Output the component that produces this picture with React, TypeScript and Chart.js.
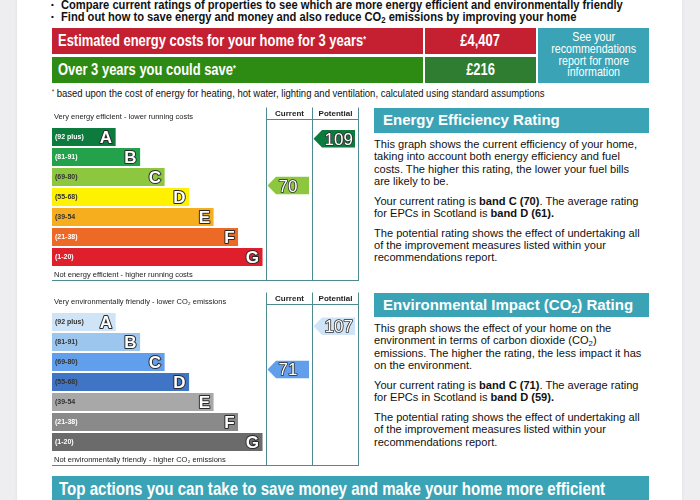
import React, { useEffect, useRef } from 'react';
import { Chart, registerables } from 'chart.js';

Chart.register(...registerables);

// ---------- data ----------
const bandLetters = ['A', 'B', 'C', 'D', 'E', 'F', 'G'];
const bandRanges = ['(92 plus)', '(81-91)', '(69-80)', '(55-68)', '(39-54', '(21-38)', '(1-20)'];
const bandLengths = [26, 36, 46, 56, 66, 76, 86];
const columnLabels = ['Current', 'Potential'];
const energyRatings = [70, 109];
const energyRatingBands = [2, 0];
const envRatings = [71, 107];
const envRatingBands = [2, 0];
const energyCost = '£4,407';
const savingCost = '£216';

// ---------- styles ----------
const energyColors = ['#0d7b3e', '#23a24b', '#8dc63f', '#fff200', '#f6ae1e', '#ec6a26', '#e01f2d'];
const energyRangeText = ['#ffffff', '#ffffff', '#333333', '#333333', '#333333', '#ffffff', '#ffffff'];
const envColors = ['#cfe4f7', '#9dc6ef', '#619eec', '#4074c4', '#a8a8a8', '#8a8a8a', '#6b6b6b'];
const envRangeText = ['#333333', '#333333', '#333333', '#333333', '#333333', '#ffffff', '#ffffff'];
const TEAL = '#3aa3b6';
const SANS = "'Liberation Sans', Arial, sans-serif";

const outlined = (ctx: any, text: string, x: number, y: number, lw: number) => {
  ctx.lineJoin = 'round';
  ctx.lineWidth = lw;
  ctx.strokeStyle = '#2a2a2a';
  ctx.strokeText(text, x, y);
  ctx.fillStyle = '#ffffff';
  ctx.fillText(text, x, y);
};

const epcPlugin = {
  id: 'epc',
  afterDatasetsDraw(chart: any, _args: any, opts: any) {
    const { ctx, chartArea: a, scales } = chart;
    const meta = chart.getDatasetMeta(0);
    const W = a.right - a.left;
    const cols = [a.left + Math.round(W * 0.699), a.left + Math.round(W * 0.85), a.right];
    ctx.save();

    // bars: range labels and letters
    meta.data.forEach((bar: any, i: number) => {
      const base = Math.min(bar.base, bar.x);
      const end = Math.max(bar.base, bar.x);
      ctx.font = `bold 7px ${SANS}`;
      ctx.fillStyle = opts.rangeColors[i];
      ctx.textAlign = 'left';
      ctx.textBaseline = 'middle';
      ctx.fillText(bandRanges[i], base + 3, bar.y + 0.5);
      ctx.font = `bold 17px ${SANS}`;
      ctx.textAlign = 'right';
      ctx.textBaseline = 'alphabetic';
      outlined(ctx, bandLetters[i], end - 3.5, bar.y + 17 * 0.716 / 2, 2);
    });

    // frame
    const top = a.top - 19.5;
    const head = a.top - 7.5;
    const bottom = a.bottom + 13.5;
    ctx.strokeStyle = '#4d8b91';
    ctx.lineWidth = 1;
    ctx.beginPath();
    cols.forEach((c: number) => {
      ctx.moveTo(c + 0.5, top);
      ctx.lineTo(c + 0.5, bottom);
    });
    ctx.moveTo(cols[0], head);
    ctx.lineTo(cols[2] + 1, head);
    ctx.moveTo(a.left, bottom);
    ctx.lineTo(cols[2] + 1, bottom);
    ctx.stroke();

    // header / footer texts
    ctx.fillStyle = '#222';
    ctx.textAlign = 'left';
    ctx.textBaseline = 'middle';
    ctx.font = `7.5px ${SANS}`;
    ctx.fillText(opts.topText, a.left + 2, a.top - 10);
    ctx.fillText(opts.bottomText, a.left + 2, a.bottom + 8);
    ctx.font = `bold 8px ${SANS}`;
    ctx.textAlign = 'center';
    columnLabels.forEach((lab, i) => {
      ctx.fillText(lab, (cols[i] + cols[i + 1]) / 2 + 0.5, a.top - 13);
    });

    // arrows
    const rs = scales.rating;
    opts.ratings.forEach((v: number, i: number) => {
      const L = cols[i];
      const R = cols[i + 1];
      const yc = rs.getPixelForValue(v);
      const h = 17.5;
      ctx.fillStyle = opts.colors[opts.bands[i]];
      ctx.beginPath();
      ctx.moveTo(L + 1.5, yc);
      ctx.lineTo(L + 10, yc - h / 2);
      ctx.lineTo(R - 3, yc - h / 2);
      ctx.lineTo(R - 3, yc + h / 2);
      ctx.lineTo(L + 10, yc + h / 2);
      ctx.closePath();
      ctx.fill();
      ctx.font = `17px ${SANS}`;
      ctx.textAlign = 'left';
      ctx.textBaseline = 'alphabetic';
      outlined(ctx, String(v), L + 12.5, yc + 17 * 0.716 / 2, 1.6);
    });
    ctx.restore();
  },
};

function RatingChart(props: {
  left: number; top: number; colors: string[]; rangeColors: string[];
  ratings: number[]; bands: number[]; topText: string; bottomText: string;
}) {
  const ref = useRef<HTMLCanvasElement>(null);
  useEffect(() => {
    const chart = new Chart(ref.current as HTMLCanvasElement, {
      type: 'bar',
      data: {
        labels: bandLetters,
        datasets: [{
          data: bandLengths,
          backgroundColor: props.colors,
          borderWidth: 0,
          barPercentage: 0.9,
          categoryPercentage: 1,
        }],
      },
      options: {
        indexAxis: 'y',
        animation: false,
        responsive: false,
        events: [],
        layout: { padding: { left: 12, right: 12, top: 23, bottom: 19 } },
        scales: {
          x: { type: 'linear', min: 0, max: 125, display: false },
          y: { type: 'category', display: false },
          rating: { type: 'linear', axis: 'y', min: 10.5, max: 110.5, display: false },
        } as any,
        plugins: {
          legend: { display: false },
          tooltip: { enabled: false },
          epc: {
            colors: props.colors,
            rangeColors: props.rangeColors,
            ratings: props.ratings,
            bands: props.bands,
            topText: props.topText,
            bottomText: props.bottomText,
          },
        } as any,
      },
      plugins: [epcPlugin],
    } as any);
    return () => chart.destroy();
  }, []);
  return (
    <canvas
      ref={ref}
      width={330}
      height={182}
      style={{ position: 'absolute', left: props.left, top: props.top, width: 330, height: 182 }}
    />
  );
}

const abs = (s: React.CSSProperties): React.CSSProperties => ({ position: 'absolute', ...s });

// Arial Narrow look: Liberation Sans squeezed horizontally
function Narrow(props: { children: React.ReactNode; origin?: string }) {
  return (
    <span style={{ display: 'inline-block', transform: 'scaleX(0.82)', transformOrigin: props.origin || 'left center', whiteSpace: 'nowrap' }}>
      {props.children}
    </span>
  );
}

function Panel(props: { top: number; title: React.ReactNode; paras: React.ReactNode[][]; lineTops: number[] }) {
  return (
    <>
      <div style={abs({ left: 374, top: props.top, width: 275, height: 24.5, background: TEAL, color: '#fff',
        font: `bold 15px ${SANS}`, lineHeight: '24.5px', paddingLeft: 9, boxSizing: 'border-box', whiteSpace: 'nowrap' })}>
        {props.title}
      </div>
      {props.paras.map((lines, pi) => (
        <div key={pi} style={abs({ left: 374, top: props.lineTops[pi], font: `11.1px ${SANS}`, lineHeight: '12.3px',
          color: '#111', whiteSpace: 'nowrap' })}>
          {lines.map((l, li) => <div key={li}>{l}</div>)}
        </div>
      ))}
    </>
  );
}

const sub2 = <sub style={{ fontSize: '0.7em', verticalAlign: '-0.25em', lineHeight: 0 }}>2</sub>;
const star = <sup style={{ fontSize: '0.55em', verticalAlign: '0.5em', lineHeight: 0 }}>*</sup>;

export default function App() {
  useEffect(() => {
    document.body.style.margin = '0';
  }, []);
  const cell: React.CSSProperties = { color: '#fff', font: `bold 15.8px ${SANS}`, lineHeight: '26px', whiteSpace: 'nowrap' };
  return (
    <div style={{ position: 'fixed', left: 0, top: 0, width: 700, height: 500, background: '#eeeef0', overflow: 'hidden' }}>
      <div style={abs({ left: 17, top: 0, width: 665, height: 500, background: '#fff', boxShadow: '0 0 3px rgba(0,0,0,0.08)' })} />

      {/* bullets */}
      {[
        'Compare current ratings of properties to see which are more energy efficient and environmentally friendly',
        <>Find out how to save energy and money and also reduce CO{sub2} emissions by improving your home</>,
      ].map((t, i) => (
        <div key={i} style={abs({ left: 51, top: -0.8 + i * 11.5, font: `bold 13.6px ${SANS}`, lineHeight: '12px', color: '#111', whiteSpace: 'nowrap' })}>
          <span style={{ fontSize: 8, display: 'inline-block', width: 10, verticalAlign: '2px' }}>•</span>
          <Narrow>{t}</Narrow>
        </div>
      ))}

      {/* cost boxes */}
      <div style={abs({ left: 52, top: 28, width: 371, height: 26, background: '#c42032', paddingLeft: 6, boxSizing: 'border-box', ...cell })}>
        <Narrow>Estimated energy costs for your home for 3 years{star}</Narrow>
      </div>
      <div style={abs({ left: 425, top: 28, width: 111, height: 26, background: '#c42032', textAlign: 'center', ...cell })}>
        <Narrow origin="center center">{energyCost}</Narrow>
      </div>
      <div style={abs({ left: 52, top: 57, width: 371, height: 26, background: '#2d8b13', paddingLeft: 6, boxSizing: 'border-box', ...cell })}>
        <Narrow>Over 3 years you could save{star}</Narrow>
      </div>
      <div style={abs({ left: 425, top: 57, width: 111, height: 26, background: '#2f7d30', textAlign: 'center', ...cell })}>
        <Narrow origin="center center">{savingCost}</Narrow>
      </div>
      <div style={abs({ left: 538, top: 28, width: 111, height: 55, background: TEAL, color: '#fff',
        font: `13px ${SANS}`, lineHeight: '11.8px', textAlign: 'center', paddingTop: 3, boxSizing: 'border-box' })}>
        <Narrow origin="center center">See your<br />recommendations<br />report for more<br />information</Narrow>
      </div>
      <div style={abs({ left: 52, top: 87, font: `11.6px ${SANS}`, lineHeight: '12px', color: '#111', whiteSpace: 'nowrap' })}>
        <Narrow>{star} based upon the cost of energy for heating, hot water, lighting and ventilation, calculated using standard assumptions</Narrow>
      </div>

      <RatingChart left={40} top={104} colors={energyColors} rangeColors={energyRangeText}
        ratings={energyRatings} bands={energyRatingBands}
        topText="Very energy efficient - lower running costs" bottomText="Not energy efficient - higher running costs" />
      <RatingChart left={40} top={289} colors={envColors} rangeColors={envRangeText}
        ratings={envRatings} bands={envRatingBands}
        topText="Very environmentally friendly - lower CO₂ emissions" bottomText="Not environmentally friendly - higher CO₂ emissions" />

      <Panel top={108} title="Energy Efficiency Rating" lineTops={[138, 194.5, 226.5]} paras={[
        ['This graph shows the current efficiency of your home,', 'taking into account both energy efficiency and fuel',
          'costs. The higher this rating, the lower your fuel bills', 'are likely to be.'],
        [<>Your current rating is <b>band C (70)</b>. The average rating</>, <>for EPCs in Scotland is <b>band D (61).</b></>],
        ['The potential rating shows the effect of undertaking all', 'of the improvement measures listed within your',
          'recommendations report.'],
      ]} />
      <Panel top={292.5} title={<>Environmental Impact (CO{sub2}) Rating</>} lineTops={[322, 379, 411]} paras={[
        ['This graph shows the effect of your home on the', <>environment in terms of carbon dioxide (CO{sub2})</>,
          'emissions. The higher the rating, the less impact it has', 'on the environment.'],
        [<>Your current rating is <b>band C (71)</b>. The average rating</>, <>for EPCs in Scotland is <b>band D (59).</b></>],
        ['The potential rating shows the effect of undertaking all', 'of the improvement measures listed within your',
          'recommendations report.'],
      ]} />

      <div style={abs({ left: 52, top: 476, width: 597, height: 30, background: TEAL, color: '#fff',
        font: `bold 18.4px ${SANS}`, lineHeight: '25px', paddingLeft: 7, boxSizing: 'border-box', whiteSpace: 'nowrap' })}>
        <Narrow>Top actions you can take to save money and make your home more efficient</Narrow>
      </div>
    </div>
  );
}
